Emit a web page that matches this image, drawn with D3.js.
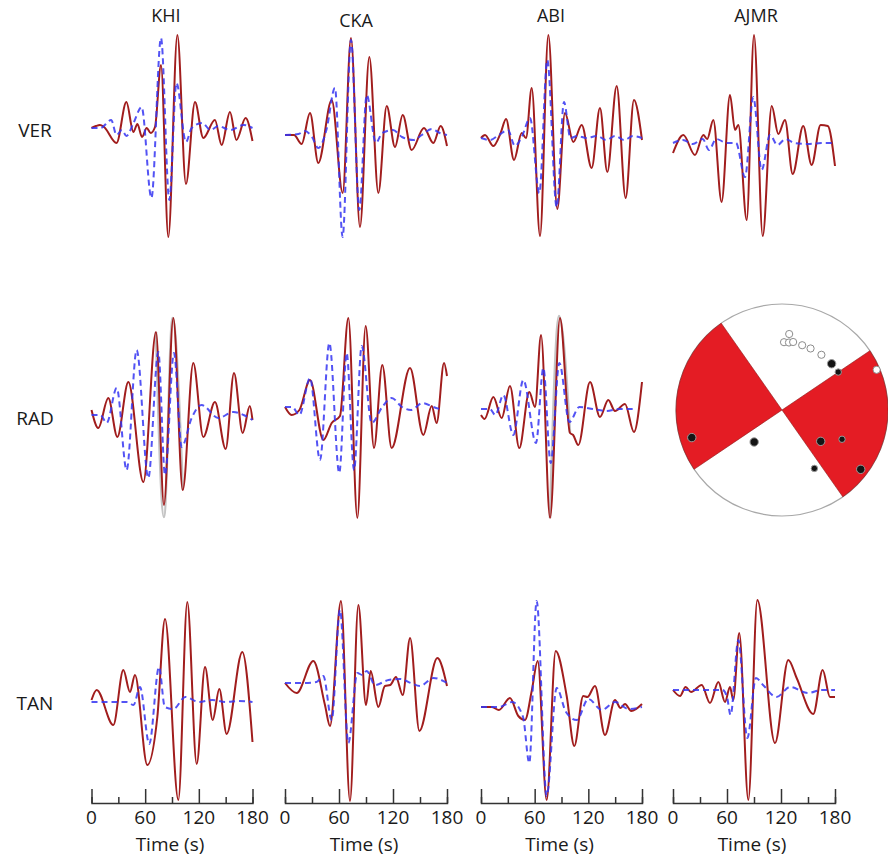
<!DOCTYPE html>
<html><head><meta charset="utf-8">
<script src="https://cdn.jsdelivr.net/npm/d3@7"></script>
<style>
body{margin:0;background:#fff}
svg{display:block}
text{font-family:"Open Sans",sans-serif;fill:#1a1a1a}
</style>
</head><body>
<svg id="chart" width="888" height="861"></svg>
<script>
// ---------- data ----------
const stations = ["KHI", "CKA", "ABI", "AJMR"];
const components = ["VER", "RAD", "TAN"];
const timeTicks = [0, 30, 60, 90, 120, 150, 180];
const timeTickLabels = [0, 60, 120, 180];
const timeLabel = "Time (s)";

// waveforms: [time (s), normalised amplitude]
const khiVerObs = [[0,0],[5,0.02],[9.5,0.03],[14,0.01],[28,-0.15],[39,0.26],[46.8,-0.04],[51.3,0.04],[56.5,-0.09],[61.7,0.0],[66.2,-0.05],[71,0.01],[77.7,0.63],[85.9,-1.09],[96,0.93],[105.6,-0.56],[115.7,0.26],[125,-0.10],[138,0.08],[145.5,-0.17],[154.8,0.16],[162,-0.12],[172.3,0.10],[180,-0.13]];
const khiVerSyn = [[0,0],[10,0.0],[22,0.08],[28,-0.07],[34,-0.02],[39,-0.08],[47,0.05],[56,0.21],[67,-0.70],[77.7,0.90],[87,-0.72],[95,0.45],[105.6,-0.14],[112,0.0],[124,0.05],[133,-0.02],[142,0.02],[155,-0.02],[170,0.03],[180,0]];
const ckaVerObs = [[0,0],[10,0.0],[18.5,-0.09],[27.8,0.22],[37,-0.28],[51.9,0.35],[64.1,-0.58],[73.3,0.97],[83.3,-0.92],[93.7,0.78],[103.7,-0.58],[113,0.29],[122.2,-0.12],[130.8,0.20],[140.7,-0.15],[154.4,0.07],[164.8,-0.08],[173,0.09],[180,-0.11]];
const ckaVerSyn = [[0,0],[15,0.01],[22,0.04],[30,-0.02],[37,-0.13],[46,0.05],[55.5,0.47],[64,-1.02],[73.3,0.95],[82.6,-0.75],[90.8,0.40],[101,-0.08],[108,0.02],[120,0.05],[130,-0.02],[143,-0.05],[152,0.0],[163,0.06],[172,0.02],[180,0]];
const abiVerObs = [[0,0],[4.5,0.03],[13.8,-0.08],[22,0.05],[28,0.19],[36.9,-0.22],[45.5,0.05],[50.3,0.0],[56.7,0.50],[66,-0.98],[75.3,1.03],[85.3,-0.71],[93.9,0.25],[103.2,-0.04],[112.6,0.13],[123.7,-0.30],[133,0.30],[141.2,-0.34],[151.7,0.52],[161.7,-0.60],[171,0.38],[180,-0.02]];
const abiVerSyn = [[0,0],[10,-0.02],[20,0.03],[30,0.08],[38,-0.08],[46,0.02],[54.8,0.20],[65.2,-0.55],[74.1,0.78],[84.6,-0.69],[92.8,0.36],[100,0.0],[108,0.02],[118,0.0],[130,0.02],[140,-0.02],[150,0.02],[160,-0.02],[170,0.02],[180,0]];
const ajmrVerObs = [[0,-0.10],[11.5,0.08],[24.4,-0.12],[33.7,0.08],[38,0.04],[44.8,0.23],[54,-0.59],[63.3,0.48],[68.9,0.13],[72.6,0.18],[81.9,-0.77],[90,1.08],[99.7,-0.93],[109.7,0.37],[117,0.09],[124.4,0.23],[133,-0.31],[144.7,0.17],[154,-0.22],[164,0.18],[172,0.17],[180,-0.23]];
const ajmrVerSyn = [[0,0],[11,0.03],[22,-0.01],[33,0.04],[40,-0.07],[48,0.04],[60,0.0],[70,0.0],[80,-0.34],[89.2,0.46],[98.5,-0.27],[107.8,0.08],[116,-0.02],[125,0.04],[135,0.0],[150,-0.01],[165,0.0],[180,0]];

const khiRadObs = [[0,0.05],[7.6,-0.13],[18.8,0.17],[28.9,-0.22],[41.2,0.33],[58,-0.67],[72.1,0.83],[81,-0.90],[91.5,0.97],[102,-0.75],[113.8,0.52],[125,-0.22],[138,0.13],[150,-0.34],[159.3,0.42],[169,-0.18],[177,0.09],[180,-0.05]];
const khiRadAlt = [[72.1,0.83],[81,-1.02],[90.6,0.97],[102,-0.75]];
const khiRadSyn = [[0,0],[10,0.0],[17,-0.08],[28.2,0.27],[39.3,-0.55],[50.5,0.65],[63.5,-0.63],[74.7,0.63],[82.2,-0.60],[92.2,0.62],[100.8,-0.32],[112,-0.03],[123,0.10],[141.8,-0.03],[158.6,0.03],[170,0.0],[180,-0.05]];
const ckaRadObs = [[0,0.0],[7.4,-0.08],[16,-0.03],[27.8,0.27],[42.6,-0.33],[51.9,-0.16],[61.1,-0.09],[70.4,0.89],[80.4,-1.11],[89.6,0.81],[98.9,-0.41],[108.1,0.42],[118.5,-0.41],[138.9,0.39],[153.7,-0.28],[163,0.01],[168.5,-0.16],[176.7,0.44],[180,0.31]];
const ckaRadSyn = [[0,0],[8,0.0],[16,-0.08],[27.8,0.29],[38.9,-0.53],[49.3,0.64],[60.3,-0.66],[68.5,0.54],[76.7,-0.63],[85.2,0.61],[96.3,-0.16],[108,0.0],[118.5,0.09],[130,0.0],[140,-0.03],[153,0.04],[165,0.0],[175,-0.03]];
const abiRadObs = [[0,-0.06],[4,-0.10],[13.8,0.12],[23.1,-0.09],[32.4,0.23],[42.8,-0.39],[54,0.17],[60.4,0.02],[67.1,0.74],[77.2,-1.09],[88.3,0.91],[99.5,-0.24],[103,-0.26],[108.8,-0.36],[121.9,0.27],[133,-0.08],[142.3,0.09],[149.8,-0.02],[161,0.05],[171,-0.23],[180,0.27]];
const abiRadAlt = [[77.2,-1.09],[87.2,0.93],[99.5,-0.24]];
const abiRadSyn = [[0,0],[10,0.0],[16,-0.06],[25,0.14],[36.1,-0.26],[47.3,0.29],[61.5,-0.34],[69.7,0.41],[77.9,-0.54],[87.6,0.46],[98.8,-0.13],[110,0.02],[125,0.0],[140,-0.02],[155,0.0],[170,0.0]];

const khiTanObs = [[0,0.02],[5.8,0.12],[24.4,-0.23],[35.6,0.32],[43,0.10],[48.6,0.27],[62.4,-0.63],[73.6,-0.15],[82.2,0.83],[97.1,-0.98],[107.1,1.00],[117.6,-0.62],[126.9,0.35],[135.5,-0.18],[142.9,0.13],[151.1,-0.32],[168.6,0.50],[180,-0.40]];
const khiTanSyn = [[0,0],[20,0.0],[40,0.0],[47,-0.03],[54.2,0.15],[64.6,-0.42],[75.5,0.35],[82,-0.05],[91.5,-0.07],[105,0.05],[120,0.0],[135,0.02],[150,0.0],[165,0.01],[180,0]];
const ckaTanObs = [[0,0],[13,-0.10],[31.5,0.22],[44.4,-0.22],[50,-0.43],[62.2,0.82],[72.2,-1.18],[81.5,0.78],[90,-0.22],[95.2,0.12],[103.7,-0.24],[111,-0.03],[117,-0.02],[123.3,0.06],[130.8,-0.12],[139,0.45],[149.3,-0.48],[169.3,0.25],[180,-0.03]];
const ckaTanSyn = [[0,0],[20,0.0],[35,0.01],[42.6,0.07],[51.9,-0.37],[61.1,0.73],[70.4,-0.60],[80.4,0.10],[86,0.08],[90.7,0.12],[100,-0.02],[115,0.03],[128,0.04],[140,0.0],[150,-0.03],[165,0.05],[180,0]];
const abiTanObs = [[0,0],[12,0.0],[20,-0.03],[32.4,0.09],[41.7,-0.09],[49.2,-0.13],[56.7,0.16],[63.4,0.46],[73.4,-0.93],[83.5,0.56],[95.8,0.11],[104.3,-0.39],[114.3,0.11],[119,0.10],[127.4,0.21],[138.6,-0.28],[149.8,0.07],[156,-0.01],[161,0.03],[168,-0.04],[180,0.03]];
const abiTanSyn = [[0,0],[20,0.0],[35,0.05],[47,-0.10],[54,-0.56],[62.2,1.06],[73.4,-0.89],[84.6,0.19],[95,-0.05],[107,-0.13],[120,0.08],[135,-0.03],[150,0.05],[165,-0.02],[180,0]];
const ajmrTanObs = [[0,0],[7.8,-0.06],[14,0.03],[20,-0.02],[31.9,0.05],[41.1,-0.13],[50.4,0.08],[57.8,-0.12],[63.3,0.03],[67,-0.10],[73.6,0.57],[83.7,-1.10],[93.7,0.90],[113.3,-0.53],[128.1,0.30],[137.4,0.12],[155.9,-0.24],[166.3,0.20],[174.4,-0.07],[180,-0.07]];
const ajmrTanSyn = [[0,0],[20,0.0],[40,0.0],[55,0.0],[60,-0.07],[64,-0.25],[72.6,0.50],[82.6,-0.48],[92.2,0.12],[100,0.05],[115,-0.07],[130,0.03],[150,-0.03],[165,0.0],[180,0]];

// focal mechanism: nodal-line azimuths (deg) and station polarities [azimuth deg, radial fraction, size]
const nodalAzimuths = [56, 145];
const compressions = [[47,0.64,1],[56,0.64,0],[253,0.89,1],[221,0.40,1],[129,0.47,1],[116,0.63,0],[151,0.63,0],[127,0.93,1]];
const dilatations = [[1.7,0.64],[5.4,0.72],[5.9,0.64],[9.3,0.65],[17.3,0.64],[24.9,0.64],[35.5,0.64],[67,0.97]];

// ---------- layout ----------
const colRange = [[91.5,252.5],[285,447],[481,642],[673,835]];
const titlePos = [[166,22],[356,27],[551,22],[756,22]];
const rowLabelY = [137,425,710];
const baseY = [[128,135,138,143],[415,407,409,null],[702,683,707,690]];
const ampPx = 100;
const axisY = 803;

const panels = [
  {r:0,c:0,obs:khiVerObs,syn:khiVerSyn},{r:0,c:1,obs:ckaVerObs,syn:ckaVerSyn},
  {r:0,c:2,obs:abiVerObs,syn:abiVerSyn},{r:0,c:3,obs:ajmrVerObs,syn:ajmrVerSyn},
  {r:1,c:0,obs:khiRadObs,syn:khiRadSyn,alt:khiRadAlt},{r:1,c:1,obs:ckaRadObs,syn:ckaRadSyn},
  {r:1,c:2,obs:abiRadObs,syn:abiRadSyn,alt:abiRadAlt},
  {r:2,c:0,obs:khiTanObs,syn:khiTanSyn},{r:2,c:1,obs:ckaTanObs,syn:ckaTanSyn},
  {r:2,c:2,obs:abiTanObs,syn:abiTanSyn},{r:2,c:3,obs:ajmrTanObs,syn:ajmrTanSyn}
];

const svg = d3.select("#chart");
const xScales = colRange.map(r => d3.scaleLinear().domain([0,180]).range(r));

// titles
stations.forEach((s,i)=>{
  svg.append("text").attr("x",titlePos[i][0]).attr("y",titlePos[i][1])
    .attr("text-anchor","middle").attr("font-size",18).text(s);
});
components.forEach((c,i)=>{
  svg.append("text").attr("x",35).attr("y",rowLabelY[i])
    .attr("text-anchor","middle").attr("font-size",19).text(c);
});

// traces
panels.forEach(p=>{
  const x = xScales[p.c];
  const b = baseY[p.r][p.c];
  const y = d3.scaleLinear().domain([-1,1]).range([b+ampPx, b-ampPx]);
  const line = d3.line().x(d=>x(d[0])).y(d=>y(d[1])).curve(d3.curveMonotoneX);
  const g = svg.append("g");
  if (p.alt) g.append("path").attr("d",line(p.alt)).attr("fill","none")
      .attr("stroke","#c4c4c4").attr("stroke-width",2.6);
  g.append("path").attr("d",line(p.obs)).attr("fill","none")
    .attr("stroke","#a11d1d").attr("stroke-width",2).attr("stroke-linejoin","round");
  g.append("path").attr("d",line(p.syn)).attr("fill","none")
    .attr("stroke","#3535f2").attr("stroke-opacity",0.85).attr("stroke-width",2)
    .attr("stroke-dasharray","6,4");
});

// time axes
xScales.forEach((x,i)=>{
  const g = svg.append("g").attr("transform",`translate(0,${axisY})`);
  const ax = d3.axisTop(x).tickValues(timeTicks).tickSizeOuter(0)
    .tickSize(6).tickFormat("");
  g.call(ax);
  g.select(".domain").attr("stroke","#333").attr("stroke-width",1.5);
  g.selectAll(".tick line").attr("stroke","#333").attr("stroke-width",1.5)
    .attr("y2", d => timeTickLabels.includes(d) ? -14 : -6);
  timeTickLabels.forEach(t=>{
    svg.append("text").attr("x",x(t)).attr("y",axisY+21)
      .attr("text-anchor","middle").attr("font-size",19).text(t);
  });
  const r = x.range();
  svg.append("text").attr("x",(r[0]+r[1])/2 - 2).attr("y",axisY+48)
    .attr("text-anchor","middle").attr("font-size",19).text(timeLabel);
});

// focal mechanism
const cx = 782, cy = 410, R = 106;
const bb = svg.append("g").attr("transform",`translate(${cx},${cy})`);
bb.append("circle").attr("r",R).attr("fill","#fff").attr("stroke","#a8a8a8").attr("stroke-width",1.2);
const rad = d => d*Math.PI/180;
const arc = d3.arc().innerRadius(0).outerRadius(R);
[[nodalAzimuths[0], nodalAzimuths[1]],[nodalAzimuths[0]+180, nodalAzimuths[1]+180]].forEach(a=>{
  bb.append("path").attr("d",arc({startAngle:rad(a[0]),endAngle:rad(a[1])}))
    .attr("fill","#e41c24").attr("stroke","#8a1515").attr("stroke-width",0.6);
});
const pos = d => [Math.sin(rad(d[0]))*d[1]*R, -Math.cos(rad(d[0]))*d[1]*R];
dilatations.forEach(d=>{
  const p = pos(d);
  bb.append("circle").attr("cx",p[0]).attr("cy",p[1]).attr("r",3.6)
    .attr("fill","#fff").attr("stroke","#8c8c8c").attr("stroke-width",1);
});
compressions.forEach(d=>{
  const p = pos(d);
  bb.append("circle").attr("cx",p[0]).attr("cy",p[1]).attr("r",d[2]?4.2:3.2)
    .attr("fill","#141414").attr("stroke","#9a9a9a").attr("stroke-width",1);
});
</script>
</body></html>
